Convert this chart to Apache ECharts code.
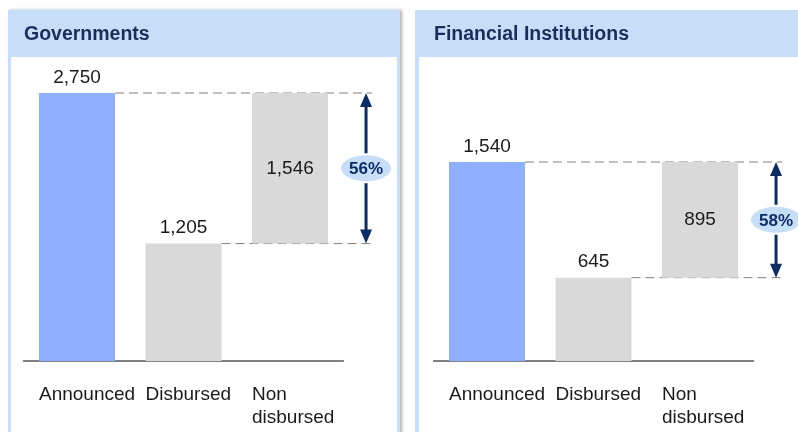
<!DOCTYPE html>
<html>
<head>
<meta charset="utf-8">
<script src="https://cdn.jsdelivr.net/npm/echarts@6/dist/echarts.min.js"></script>
<style>
    html, body { margin: 0; padding: 0; background: #fff; }
    #main { width: 798px; height: 432px; }
</style>
</head>
<body>
<div id="main"></div>
<script>
// categories and values
const categories = ['Announced', 'Disbursed', 'Non\ndisbursed']
const govValues = [2750, 1205, 1546] // announced, disbursed, non disbursed
const finValues = [1540, 645, 895]
const govShare = '56%'
const finShare = '58%'

const BLUE = '#8FB0FE'
const GREY = '#D9D9D9'
const NAVY = '#0B2C66'
const HEADER = '#C6DEF8'
const FONT = 'Liberation Sans'

let chart = echarts.init(document.getElementById('main'))

// base of the floating bar = disbursed amount
function baseOf(values) {
    return [0, 0, values[1]]
}

function barData(values) {
    return values.map((v, i) => ({
        value: v,
        itemStyle: { color: i === 0 ? BLUE : GREY },
        label: { position: i === 2 ? 'inside' : 'top' }
    }))
}

// dashed connectors, drawn behind the bars
function connectors(values) {
    return function (params, api) {
        const band = api.size([1, 0])[0]
        const half = band * 0.357
        const top = api.coord([0, values[0]])
        const low = api.coord([1, values[1]])
        const ax = api.coord([2, 0])[0] + band * 0.714
        const dash = { stroke: '#808080', lineWidth: 1, lineDash: [9, 5] }
        return {
            type: 'group',
            children: [
                { type: 'line', shape: { x1: top[0] + half, y1: top[1], x2: ax + 6, y2: top[1] }, style: dash },
                { type: 'line', shape: { x1: low[0] + half, y1: low[1], x2: ax + 6, y2: low[1] }, style: dash }
            ]
        }
    }
}

// double arrow with the share bubble
function bracket(values, share) {
    return function (params, api) {
        const band = api.size([1, 0])[0]
        const top = api.coord([2, values[0]])
        const low = api.coord([2, values[1]])
        const ax = top[0] + band * 0.714
        const mid = (top[1] + low[1]) / 2
        const head = 14
        return {
            type: 'group',
            children: [
                { type: 'line', shape: { x1: ax, y1: top[1] + head - 2, x2: ax, y2: low[1] - head + 2 }, style: { stroke: NAVY, lineWidth: 3 } },
                { type: 'polygon', shape: { points: [[ax, top[1]], [ax - 6, top[1] + head], [ax + 6, top[1] + head]] }, style: { fill: NAVY } },
                { type: 'polygon', shape: { points: [[ax, low[1]], [ax - 6, low[1] - head], [ax + 6, low[1] - head]] }, style: { fill: NAVY } },
                { type: 'ellipse', shape: { cx: ax, cy: mid, rx: 26, ry: 14 }, style: { fill: HEADER, stroke: '#fff', lineWidth: 2 } },
                {
                    type: 'text',
                    style: {
                        text: share, x: ax, y: mid + 1, align: 'center', verticalAlign: 'middle',
                        fontSize: 17, fontWeight: 'bold', fontFamily: FONT, fill: NAVY
                    }
                }
            ]
        }
    }
}

function xAxisFor(idx) {
    return {
        type: 'category',
        gridIndex: idx,
        data: categories,
        axisTick: { show: false },
        axisLine: { lineStyle: { color: '#808080', width: 2 } },
        axisLabel: {
            margin: 22,
            interval: 0,
            formatter: (v) => v.split('\n').map((s) => '{a|' + s + '}').join('\n'),
            rich: {
                a: { width: 76, align: 'left', fontSize: 19, lineHeight: 23, fontFamily: FONT, color: '#1a1a1a' }
            }
        }
    }
}

function yAxisFor(idx, max) {
    return { type: 'value', gridIndex: idx, min: 0, max: max, show: false, splitLine: { show: false } }
}

function seriesFor(idx, values, share) {
    return [
        {
            type: 'custom', xAxisIndex: idx, yAxisIndex: idx, z: 1, silent: true, clip: false,
            data: [[0, values[0]]], renderItem: connectors(values)
        },
        {
            type: 'bar', xAxisIndex: idx, yAxisIndex: idx, stack: 's' + idx, z: 2, barWidth: 76,
            itemStyle: { color: 'transparent' }, data: baseOf(values), silent: true
        },
        {
            type: 'bar', xAxisIndex: idx, yAxisIndex: idx, stack: 's' + idx, z: 2, barWidth: 76,
            data: barData(values),
            label: {
                show: true, distance: 6, fontSize: 19, fontFamily: FONT, color: '#1a1a1a',
                formatter: (p) => p.value.toLocaleString('en-US')
            }
        },
        {
            type: 'custom', xAxisIndex: idx, yAxisIndex: idx, z: 3, silent: true, clip: false,
            data: [[2, values[0]]], renderItem: bracket(values, share)
        }
    ]
}

chart.setOption({
    animation: false,
    backgroundColor: '#fff',
    graphic: [
        // left panel frame
        { type: 'rect', shape: { x: 8, y: 10, width: 392, height: 440 }, style: { fill: HEADER, shadowBlur: 3, shadowOffsetX: 2, shadowColor: 'rgba(0,0,0,0.3)' }, z: -10 },
        { type: 'rect', shape: { x: 11, y: 57, width: 386, height: 400 }, style: { fill: '#fff' }, z: -9 },
        // right panel frame
        { type: 'rect', shape: { x: 415, y: 10, width: 400, height: 440 }, style: { fill: HEADER }, z: -10 },
        { type: 'rect', shape: { x: 419, y: 57, width: 400, height: 400 }, style: { fill: '#fff' }, z: -9 }
    ],
    title: [
        { text: 'Governments', left: 19, top: 20, textStyle: { fontSize: 19.5, fontWeight: 'bold', fontFamily: FONT, color: '#1C2D5C' } },
        { text: 'Financial Institutions', left: 429, top: 20, textStyle: { fontSize: 19.5, fontWeight: 'bold', fontFamily: FONT, color: '#1C2D5C' } }
    ],
    grid: [
        { left: 23.75, width: 319.5, top: 93, bottom: 71 },
        { left: 433.75, width: 319.5, top: 162, bottom: 71 }
    ],
    xAxis: [xAxisFor(0), xAxisFor(1)],
    yAxis: [yAxisFor(0, govValues[0]), yAxisFor(1, finValues[0])],
    series: [...seriesFor(0, govValues, govShare), ...seriesFor(1, finValues, finShare)]
})
</script>
</body>
</html>
